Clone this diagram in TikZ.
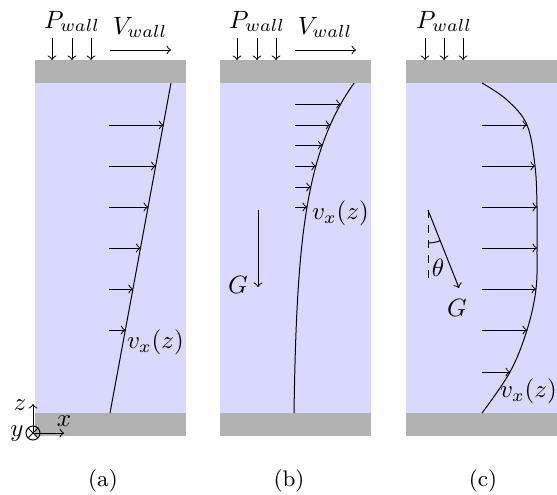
\documentclass[tikz,border=0pt]{standalone}
\usetikzlibrary{calc}
\begin{document}
\begin{tikzpicture}[x=0.4pt,y=-0.4pt,
  fluid/.style={fill=blue!15, draw=none},
  wall/.style={fill=black!30, draw=none},
  vel/.style={->},
  lbl/.style={inner sep=1pt},
  captxt/.style={font=\small}]
\useasboundingbox (0,0) rectangle (557,494);
% ---------- backgrounds
\foreach \xa/\xb in {35/186,220/371,406/557}{
  \fill[fluid] (\xa,83) rectangle (\xb,413);
  \fill[wall] (\xa,60) rectangle (\xb,83);
  \fill[wall] (\xa,413) rectangle (\xb,436);
}
% ---------- wall pressure arrows and labels
\foreach \xm/\xl/\xr in {72/52/91, 257/237/276, 444/425/463}{
  \foreach \xx in {\xl,\xm,\xr} \draw[vel] (\xx,38) -- (\xx,60);
  \node[lbl, anchor=base] at (\xm,28) {$P_{wall}$};
}
\foreach \xa/\xb/\xm in {110/171/140, 295/356/325}{
  \draw[vel] (\xa,50) -- (\xb,50);
  \node[lbl, anchor=base] at (\xm,34) {$V_{wall}$};
}
% ---------- panel (a): linear profile
\coordinate (a0) at (110,413);
\coordinate (a1) at (171,83);
\draw (a0) -- (a1);
\foreach \yy in {125,166,207,248,289,330}
  \draw[vel] (109,\yy) -- ({110+(413-\yy)/330*61},\yy);
\node[lbl, anchor=west] (va) at (124,342) {$v_x(z)$};
% axes
\coordinate (o) at (33,433);
\draw (o) circle (7);
\draw ($(o)+(-4.95,-4.95)$) -- ($(o)+(4.95,4.95)$);
\draw ($(o)+(-4.95,4.95)$) -- ($(o)+(4.95,-4.95)$);
\draw[vel] (o) -- (33,404);
\draw[vel] (o) -- (64,433);
\node[lbl] at (20,405) {$z$};
\node[lbl] at (64,421) {$x$};
\node[lbl] at (17,434) {$y$};
% ---------- panel (b): exponential-like profile
\draw plot[variable=\t, domain=83:413, samples=80, smooth]
  ({294+1.266*(exp((413-\t)/85)-1)}, \t);
\foreach \yy in {104,125,145,166,187,207}
  \draw[vel] (295,\yy) -- ({294+1.266*(exp((413-\yy)/85)-1)},\yy);
\node[lbl, anchor=west] (vb) at (309,213) {$v_x(z)$};
\draw[vel] (258,210) -- (258,287) coordinate (gb);
\node[lbl] at (238,285) {$G$};
% ---------- panel (c): Poiseuille-like profile
\draw plot[smooth, tension=0.6] coordinates {(482,83) (507,100) (527,125) (535,166) (537,207) (537,248) (536,289) (527,330) (510,372) (482,413)};
\foreach \yy/\xe in {125/527,166/535,207/537,248/537,289/536,330/527,372/510}
  \draw[vel] (482,\yy) -- (\xe,\yy);
\node[lbl, anchor=west] (vc) at (497,391) {$v_x(z)$};
\coordinate (g0) at (428,210);
\draw[dashed] (g0) -- (428,282);
\draw[vel] (g0) -- (459,288) coordinate (g1);
\draw (428,243) arc[start angle=90, end angle=68.3, radius=33];
\node[lbl] at (438,268) {$\theta$};
\node[lbl] at (457,308) {$G$};
% ---------- captions
\node[captxt] at (103,481) {(a)};
\node[captxt] at (289,481) {(b)};
\node[captxt] at (483,481) {(c)};
\end{tikzpicture}
\end{document}
